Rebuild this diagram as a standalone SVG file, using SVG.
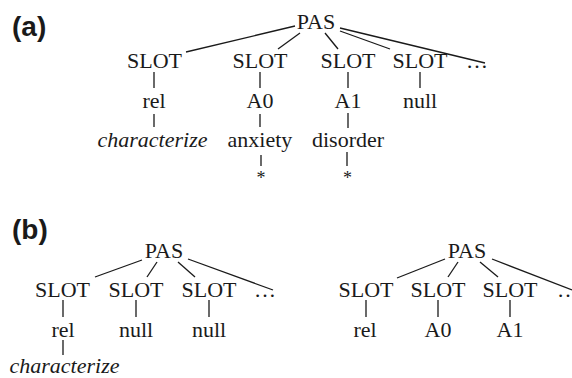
<svg xmlns="http://www.w3.org/2000/svg" width="572" height="378" viewBox="0 0 572 378">
<style>
.t{font-family:"Liberation Serif","Times New Roman",serif;font-size:22px;fill:#1a1a1a;text-anchor:middle}
.i{font-style:italic}
.ast{font-family:"Liberation Serif",serif;font-size:18px;fill:#1a1a1a;text-anchor:middle}
.lab{font-family:"Liberation Sans",Arial,sans-serif;font-weight:bold;font-size:28px;fill:#1a1a1a}
.e line{stroke:#1a1a1a;stroke-width:1.3;fill:none}
</style>
<rect width="572" height="378" fill="#fff"/>
<text class="lab" x="12" y="35.5">(a)</text>
<text class="lab" x="12" y="238.5">(b)</text>
<g id="edges" class="e">
<line x1="186" y1="52" x2="295" y2="26"/>
<line x1="278" y1="49" x2="300" y2="33"/>
<line x1="325" y1="33" x2="338" y2="49"/>
<line x1="340" y1="31" x2="390" y2="49"/>
<line x1="340" y1="28" x2="485" y2="63"/>
<line x1="154" y1="72" x2="154" y2="88"/>
<line x1="154" y1="114" x2="154" y2="127"/>
<line x1="260" y1="72" x2="260" y2="88"/>
<line x1="260" y1="114" x2="260" y2="127"/>
<line x1="261" y1="155" x2="261" y2="166"/>
<line x1="348" y1="72" x2="348" y2="88"/>
<line x1="348" y1="113" x2="348" y2="128"/>
<line x1="347" y1="152" x2="347" y2="166"/>
<line x1="420" y1="72" x2="420" y2="88"/>
<line x1="95" y1="277" x2="142" y2="260"/>
<line x1="147" y1="277" x2="157" y2="262"/>
<line x1="178" y1="262" x2="195" y2="277"/>
<line x1="188" y1="259" x2="273" y2="290"/>
<line x1="63" y1="300" x2="63" y2="317"/>
<line x1="63" y1="340" x2="63" y2="355"/>
<line x1="136" y1="300" x2="136" y2="317"/>
<line x1="209" y1="300" x2="209" y2="317"/>
<line x1="397" y1="278" x2="445" y2="259"/>
<line x1="448" y1="277" x2="458" y2="262"/>
<line x1="480" y1="262" x2="498" y2="277"/>
<line x1="492" y1="259" x2="572" y2="290"/>
<line x1="366" y1="300" x2="366" y2="317"/>
<line x1="438" y1="300" x2="438" y2="317"/>
<line x1="510" y1="300" x2="510" y2="317"/>
</g>
<g id="a-pas"><text class="t" x="316" y="29">PAS</text></g>
<g id="a-slot1"><text class="t" x="154.5" y="68">SLOT</text></g>
<g id="a-slot2"><text class="t" x="260" y="68">SLOT</text></g>
<g id="a-slot3"><text class="t" x="348" y="68">SLOT</text></g>
<g id="a-slot4"><text class="t" x="420" y="68">SLOT</text></g>
<g id="a-dots"><text class="t" x="477" y="68">…</text></g>
<g id="a-rel"><text class="t" x="154" y="108">rel</text></g>
<g id="a-a0"><text class="t" x="260" y="108">A0</text></g>
<g id="a-a1"><text class="t" x="348" y="108">A1</text></g>
<g id="a-null"><text class="t" x="420" y="108">null</text></g>
<g id="a-characterize"><text class="t i" x="152.5" y="147">characterize</text></g>
<g id="a-anxiety"><text class="t" x="260" y="147">anxiety</text></g>
<g id="a-disorder"><text class="t" x="348" y="147">disorder</text></g>
<g id="a-star1"><text class="ast" x="261" y="184">*</text></g>
<g id="a-star2"><text class="ast" x="347.5" y="184">*</text></g>
<g id="b1-pas"><text class="t" x="164" y="258">PAS</text></g>
<g id="b1-slot1"><text class="t" x="62.5" y="297">SLOT</text></g>
<g id="b1-slot2"><text class="t" x="136" y="297">SLOT</text></g>
<g id="b1-slot3"><text class="t" x="209" y="297">SLOT</text></g>
<g id="b1-dots"><text class="t" x="265" y="297">…</text></g>
<g id="b1-rel"><text class="t" x="63" y="337">rel</text></g>
<g id="b1-null1"><text class="t" x="136" y="337">null</text></g>
<g id="b1-null2"><text class="t" x="209" y="337">null</text></g>
<g id="b1-characterize"><text class="t i" x="64.5" y="373">characterize</text></g>
<g id="b2-pas"><text class="t" x="467" y="258">PAS</text></g>
<g id="b2-slot1"><text class="t" x="366" y="297">SLOT</text></g>
<g id="b2-slot2"><text class="t" x="438" y="297">SLOT</text></g>
<g id="b2-slot3"><text class="t" x="510" y="297">SLOT</text></g>
<g id="b2-dots"><text class="t" x="568" y="297">…</text></g>
<g id="b2-rel"><text class="t" x="365" y="337">rel</text></g>
<g id="b2-a0"><text class="t" x="438" y="337">A0</text></g>
<g id="b2-a1"><text class="t" x="510" y="337">A1</text></g>
</svg>
